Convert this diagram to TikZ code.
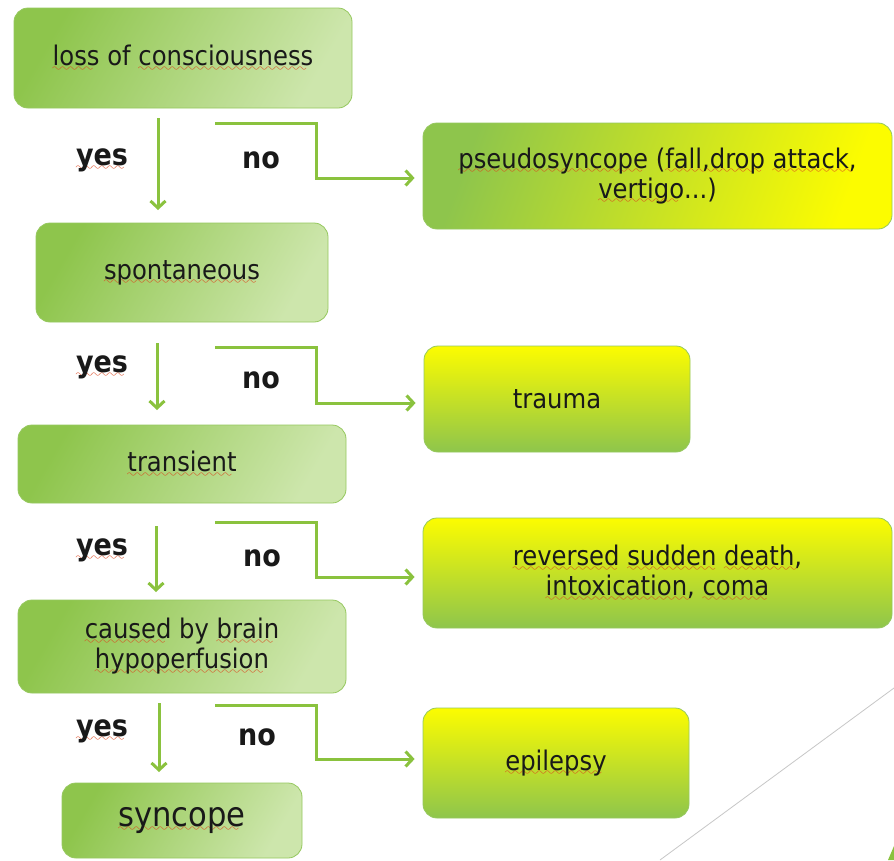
\documentclass[tikz,border=0pt]{standalone}
\usepackage{fontspec}
\setmainfont{DejaVu Sans Condensed}
\usetikzlibrary{arrows.meta}
\definecolor{arrgreen}{RGB}{138,194,62}
\definecolor{boxdark}{RGB}{142,197,76}
\definecolor{boxlight}{RGB}{205,230,172}
\definecolor{boxedge}{RGB}{150,200,95}
\definecolor{ylw}{RGB}{252,252,0}
\definecolor{txt}{RGB}{25,25,25}
\definecolor{wavered}{RGB}{220,70,30}
\font\wavefont=lasy10 at 12pt
\newcommand\sq[1]{\setbox0\hbox{#1}\leavevmode\rlap{\textcolor{wavered}{\lower5.5pt\hbox to \wd0{\leaders\hbox{\wavefont\char58}\hfill}}}\box0\relax}
\tikzset{
  base/.style={rounded corners=14pt, draw=boxedge, line width=0.8pt, text=txt,
    font=\fontsize{27}{30}\selectfont, align=center, inner sep=0pt},
  leftbox/.style={base, left color=boxdark, right color=boxlight, shading angle=60},
  diagbox/.style={base, left color=boxdark, right color=ylw, shading angle=70},
  ybox/.style={base, top color=ylw, bottom color=boxdark},
  arr/.style={draw=arrgreen, line width=3pt, -{Straight Barb[length=7pt,width=15pt,line width=3pt]}},
  lab/.style={text=txt, font=\fontsize{30}{32}\selectfont\bfseries, inner sep=0pt}
}
\begin{document}
\begin{tikzpicture}[x=1pt,y=-1pt]
\useasboundingbox[fill=white] (0,0) rectangle (894,860);
% left boxes
\node[leftbox, minimum width=338, minimum height=100] (b1) at (183,58) {\sq{loss} of \sq{consciousness}};
\node[leftbox, minimum width=292, minimum height=99] (b2) at (182,272.5) {\sq{spontaneous}};
\node[leftbox, minimum width=328, minimum height=78] (b3) at (182,464) {\sq{transient}};
\node[leftbox, minimum width=328, minimum height=93] (b4) at (182,646.5) {\sq{caused} by \sq{brain}\\\sq{hypoperfusion}};
\node[leftbox, minimum width=240, minimum height=75, font=\fontsize{34}{38}\selectfont] (b5) at (182,820.5) {\sq{syncope}};
% right boxes
\node[diagbox, minimum width=469, minimum height=106] (r1) at (657.5,176) {\sq{pseudosyncope} (\sq{fall,drop} \sq{attack,}\\\sq{vertigo}...)};
\node[ybox, minimum width=266, minimum height=106] (r2) at (557,399) {trauma};
\node[ybox, minimum width=469, minimum height=110] (r3) at (657.5,573) {\sq{reversed} \sq{sudden} \sq{death,}\\\sq{intoxication,} \sq{coma}};
\node[ybox, minimum width=266, minimum height=110] (r4) at (556,763) {\sq{epilepsy}};
% yes arrows
\coordinate (y1s) at (158,118); \coordinate (y1e) at (158,210);
\coordinate (y2s) at (157,343); \coordinate (y2e) at (157,410);
\coordinate (y3s) at (156,526); \coordinate (y3e) at (156,592);
\coordinate (y4s) at (159,703); \coordinate (y4e) at (159,772);
\draw[arr] (y1s) -- (y1e);
\draw[arr] (y2s) -- (y2e);
\draw[arr] (y3s) -- (y3e);
\draw[arr] (y4s) -- (y4e);
% no connectors
\coordinate (n1) at (215,123); \coordinate (n2) at (215,347);
\coordinate (n3) at (215,522); \coordinate (n4) at (215,705);
\draw[arr] (n1) -- (316,123) -- (316,178) -- ([xshift=-8pt]r1.west |- 0,178);
\draw[arr] (n2) -- (316,347) -- (316,403) -- ([xshift=-8pt]r2.west |- 0,403);
\draw[arr] (n3) -- (316,522) -- (316,577) -- ([xshift=-8pt]r3.west |- 0,577);
\draw[arr] (n4) -- (316,705) -- (316,759) -- ([xshift=-8pt]r4.west |- 0,759);
% labels
\node[lab] (ly1) at (102,160) {\sq{yes}};
\node[lab] (ln1) at (261,160) {no};
\node[lab] (ly2) at (102,367) {\sq{yes}};
\node[lab] (ln2) at (261,380) {no};
\node[lab] (ly3) at (102,550) {\sq{yes}};
\node[lab] (ln3) at (262,558) {no};
\node[lab] (ly4) at (102,731) {\sq{yes}};
\node[lab] (ln4) at (257,737) {no};
% slide decoration
\draw[black!22, line width=0.8pt] (660,860) -- (894,688);
\fill[arrgreen] (888,860) -- (894,846) -- (894,860) -- cycle;
\end{tikzpicture}
\end{document}
